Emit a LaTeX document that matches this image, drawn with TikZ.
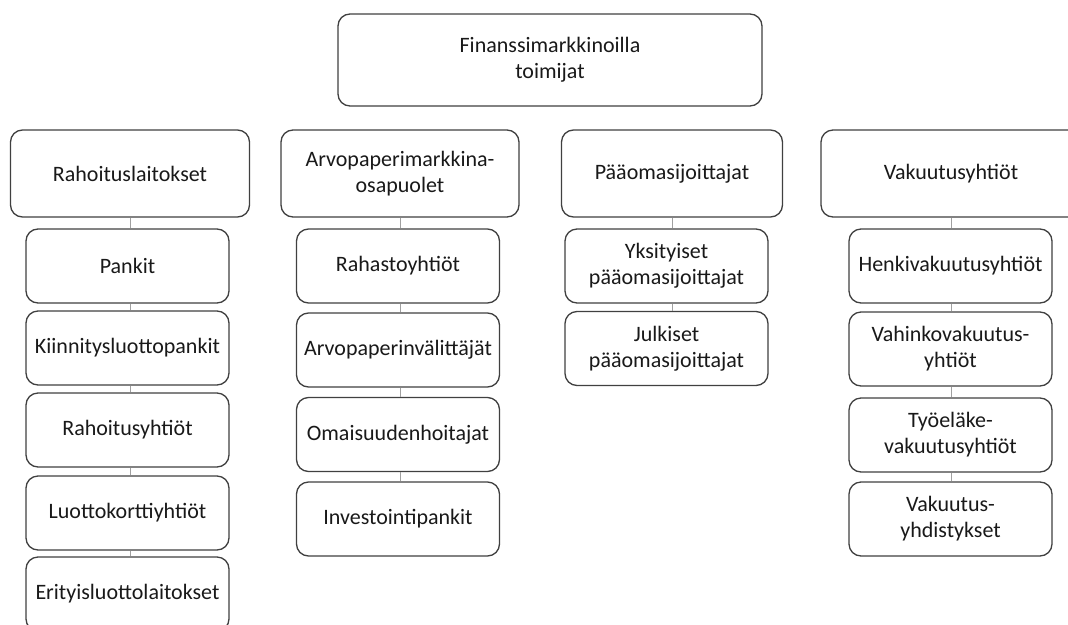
\documentclass[tikz,border=0pt]{standalone}
\usepackage{fontspec}
\setmainfont{Carlito}
\usepackage{tikz}
\definecolor{rand}{RGB}{64,64,64}
\definecolor{linkgrey}{RGB}{160,160,160}
\definecolor{teksti}{RGB}{25,25,25}

\begin{document}
\begin{tikzpicture}[x=1pt,y=-1pt,
  laatikko/.style={draw=rand, line width=1.3pt, rounded corners=12pt, fill=white,
    inner sep=0pt, align=center, text=teksti,
    font=\fontsize{22}{26}\selectfont},
  alalaatikko/.style={laatikko, minimum width=203pt, minimum height=74pt},
  ylalaatikko/.style={laatikko, minimum height=87pt},
  linkki/.style={draw=linkgrey, line width=1pt}]
\clip (0,0) rectangle (1068,624);

% paataso
\node [laatikko, minimum width=424pt, minimum height=92pt] (fin) at (550,60) {Finanssimarkkinoilla\\toimijat};

% ryhmat
\node [ylalaatikko, minimum width=239pt] (rah) at (130,173.5) {Rahoituslaitokset};
\node [ylalaatikko, minimum width=238pt] (arvo) at (400,173.5) {Arvopaperimarkkina-\\osapuolet};
\node [ylalaatikko, minimum width=221pt] (paa) at (672,173.5) {P\"a\"aomasijoittajat};
\node [ylalaatikko, minimum width=260pt] (vak) at (951,173.5) {Vakuutusyhti\"ot};

% rahoituslaitokset
\node [alalaatikko] (pank) at (127.5,266) {Pankit};
\node [alalaatikko] (kiin) at (127.5,348) {Kiinnitysluottopankit};
\node [alalaatikko] (rahy) at (127.5,430) {Rahoitusyhti\"ot};
\node [alalaatikko] (luot) at (127.5,513) {Luottokorttiyhti\"ot};
\node [alalaatikko] (erit) at (127.5,594) {Erityisluottolaitokset};

% arvopaperimarkkinaosapuolet
\node [alalaatikko] (rahs) at (398,266) {Rahastoyhti\"ot};
\node [alalaatikko] (valit) at (398,350) {Arvopaperinv\"alitt\"aj\"at};
\node [alalaatikko] (omai) at (398,434.5) {Omaisuudenhoitajat};
\node [alalaatikko] (inve) at (398,519) {Investointipankit};

% paaomasijoittajat
\node [alalaatikko] (yksi) at (666.5,266) {Yksityiset\\p\"a\"aomasijoittajat};
\node [alalaatikko] (julk) at (666.5,348.5) {Julkiset\\p\"a\"aomasijoittajat};

% vakuutusyhtiot
\node [alalaatikko] (henk) at (950.5,266) {Henkivakuutusyhti\"ot};
\node [alalaatikko] (vahi) at (950.5,349) {Vahinkovakuutus-\\yhti\"ot};
\node [alalaatikko] (tyoe) at (950.5,435) {Ty\"oel\"ake-\\vakuutusyhti\"ot};
\node [alalaatikko] (vyhd) at (950.5,519) {Vakuutus-\\yhdistykset};

% yhdysviivat
\draw [linkki] (rah.south) -- (rah.south |- pank.north);
\draw [linkki] (rah.south |- pank.south) -- (rah.south |- kiin.north);
\draw [linkki] (rah.south |- kiin.south) -- (rah.south |- rahy.north);
\draw [linkki] (rah.south |- rahy.south) -- (rah.south |- luot.north);
\draw [linkki] (rah.south |- luot.south) -- (rah.south |- erit.north);

\draw [linkki] (arvo.south) -- (arvo.south |- rahs.north);
\draw [linkki] (arvo.south |- rahs.south) -- (arvo.south |- valit.north);
\draw [linkki] (arvo.south |- valit.south) -- (arvo.south |- omai.north);
\draw [linkki] (arvo.south |- omai.south) -- (arvo.south |- inve.north);

\draw [linkki] (paa.south) -- (paa.south |- yksi.north);
\draw [linkki] (paa.south |- yksi.south) -- (paa.south |- julk.north);

\draw [linkki] (vak.south) -- (vak.south |- henk.north);
\draw [linkki] (vak.south |- henk.south) -- (vak.south |- vahi.north);
\draw [linkki] (vak.south |- vahi.south) -- (vak.south |- tyoe.north);
\draw [linkki] (vak.south |- tyoe.south) -- (vak.south |- vyhd.north);

\end{tikzpicture}
\end{document}
